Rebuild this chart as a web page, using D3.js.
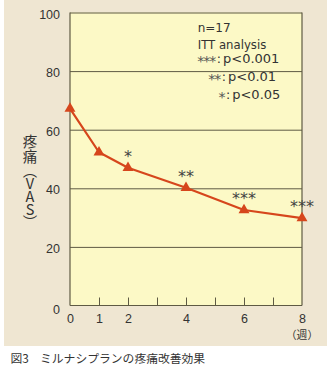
<!DOCTYPE html>
<html>
<head>
<meta charset="utf-8">
<script src="https://cdn.jsdelivr.net/npm/d3@7"></script>
<style>
  html, body { margin: 0; padding: 0; background: #ffffff; }
  svg { display: block; }
</style>
</head>
<body>
<div id="chart"></div>
<script>
// ---- data ----
const weeks = [0, 1, 2, 4, 6, 8];
const painVAS = [67.2, 52.3, 47.0, 40.2, 32.6, 29.8];
const significance = ["", "", "*", "**", "***", "***"];
const yTicks = [0, 20, 40, 60, 80, 100];
const gridTicks = [20, 40, 60, 80, 100];
const xLabelTicks = [0, 1, 2, 4, 6, 8];
const xMinorTicks = [1, 2, 3, 4, 5, 6, 7];
const xUnitLabel = "（週）";
const yTitleMain = "疼痛";
const yTitleUnit = "（VAS）";
const legendInfo = ["n=17", "ITT analysis"];
const legendStars = ["***", "**", "*"];
const legendP = ["p<0.001", "p<0.01", "p<0.05"];
const captionNum = "図3　";
const captionText = "ミルナシプランの疼痛改善効果";

(function () {
// ---- layout ----
const W = 327, H = 384;
const pL = 70, pR = 302, pT = 12.5, pB = 305.5;
const ink = "#333333";
const frame = "#5e5a44";
const red = "#d6461c";

const svg = d3.select("#chart").append("svg")
  .attr("width", W).attr("height", H);

svg.append("rect").attr("width", W).attr("height", H).attr("fill", "#ffffff");
svg.append("rect").attr("x", 4).attr("y", 0).attr("width", W - 4).attr("height", 346)
  .attr("fill", "#efe6d2");

const x = d3.scaleLinear().domain([0, 8]).range([pL, pR]);
const y = d3.scaleLinear().domain([0, 100]).range([pB, pT]);

svg.append("rect").attr("x", pL).attr("y", pT)
  .attr("width", pR - pL).attr("height", pB - pT)
  .attr("fill", "#fcf9c6");

// gridlines
const grid = svg.append("g").attr("transform", `translate(${pL},0)`)
  .call(d3.axisLeft(y).tickValues(gridTicks).tickSize(-(pR - pL)).tickFormat(""));
grid.select(".domain").remove();
grid.selectAll("line").attr("stroke", frame).attr("stroke-width", 1);

// frame lines: left, bottom, right
svg.append("line").attr("x1", pL).attr("x2", pL).attr("y1", pT).attr("y2", pB)
  .attr("stroke", frame).attr("stroke-width", 1.2);
svg.append("line").attr("x1", pL).attr("x2", pR).attr("y1", pB).attr("y2", pB)
  .attr("stroke", frame).attr("stroke-width", 1.2);
svg.append("line").attr("x1", pR).attr("x2", pR).attr("y1", pT).attr("y2", pB)
  .attr("stroke", frame).attr("stroke-width", 1.2);

// y axis labels
const yAx = svg.append("g").attr("transform", `translate(${pL},0)`)
  .call(d3.axisLeft(y).tickValues(yTicks).tickSize(0).tickPadding(10));
yAx.select(".domain").remove();
yAx.selectAll("text")
  .attr("font-family", "Liberation Sans, Arial, sans-serif")
  .attr("font-size", 12.5).attr("fill", ink)
  .attr("dy", d => d === 0 ? "0.62em" : "0.45em");

// x minor ticks
const xMinor = svg.append("g").attr("transform", `translate(0,${pB})`)
  .call(d3.axisBottom(x).tickValues(xMinorTicks).tickSize(-8).tickFormat(""));
xMinor.select(".domain").remove();
xMinor.selectAll("line").attr("stroke", frame).attr("stroke-width", 1);

// x labels
const xAx = svg.append("g").attr("transform", `translate(0,${pB})`)
  .call(d3.axisBottom(x).tickValues(xLabelTicks).tickSize(0).tickPadding(9));
xAx.select(".domain").remove();
xAx.selectAll("text")
  .attr("font-family", "Liberation Sans, Arial, sans-serif")
  .attr("font-size", 12.5).attr("fill", ink);

svg.append("text").attr("x", x(8)).attr("y", 339)
  .attr("text-anchor", "middle")
  .attr("font-family", "Noto Sans CJK JP, sans-serif")
  .attr("font-size", 10.8).attr("fill", ink)
  .text(xUnitLabel);

// y title (vertical)
const yt = svg.append("text")
  .attr("x", 30).attr("y", 134.5)
  .attr("font-family", "Noto Sans CJK JP, sans-serif")
  .attr("font-size", 14.5).attr("fill", ink)
  .style("writing-mode", "vertical-rl")
  .style("text-orientation", "upright");
yt.append("tspan").text(yTitleMain);
yt.append("tspan").style("letter-spacing", "-1.5px").text(yTitleUnit);

// data
const pts = weeks.map((w, i) => ({ w, v: painVAS[i], s: significance[i] }));
svg.append("path").datum(pts)
  .attr("fill", "none").attr("stroke", red).attr("stroke-width", 2.2)
  .attr("stroke-linejoin", "round")
  .attr("d", d3.line().x(d => x(d.w)).y(d => y(d.v)));

svg.selectAll(".tri").data(pts).enter().append("path")
  .attr("class", "tri")
  .attr("transform", d => `translate(${x(d.w)},${y(d.v)})`)
  .attr("d", d3.symbol(d3.symbolTriangle).size(52))
  .attr("fill", red);

svg.selectAll(".sig").data(pts.filter(d => d.s)).enter().append("text")
  .attr("class", "sig")
  .attr("x", d => x(d.w)).attr("y", d => y(d.v) - 15 + 9.3)
  .attr("text-anchor", "middle")
  .attr("font-family", "DejaVu Sans, sans-serif")
  .attr("font-size", 16).attr("fill", "#444")
  .text(d => d.s);

// legend
const legFont = "DejaVu Sans, sans-serif";
svg.append("text").attr("x", 197.7).attr("y", 31.7)
  .attr("font-family", legFont).attr("font-size", 12).attr("fill", ink)
  .text(legendInfo[0]);
svg.append("text").attr("x", 197.7).attr("y", 49)
  .attr("font-family", legFont).attr("font-size", 11.7).attr("fill", ink)
  .text(legendInfo[1]);
const legX = [197.3, 208.3, 218.5];
const legY = [63, 81.3, 99.3];
legendStars.forEach((s, i) => {
  const t = svg.append("text").attr("x", legX[i]).attr("y", legY[i])
    .attr("font-family", legFont).attr("fill", ink);
  t.append("tspan").attr("font-size", 14).attr("dy", 3).attr("fill", "#555")
    .style("letter-spacing", "-1px").text(s);
  t.append("tspan").attr("font-size", 12.5).attr("dy", -3).attr("dx", 1.5).text(":");
  t.append("tspan").attr("font-size", 13).attr("dx", 2).text(legendP[i]);
});

// caption
const cap = svg.append("text").attr("y", 363)
  .attr("font-family", "Noto Sans CJK JP, sans-serif")
  .attr("font-size", 11.8).attr("fill", ink);
cap.append("tspan").attr("x", 10.5).text(captionNum);
cap.append("tspan").attr("x", 40).text(captionText);
})();
</script>
</body>
</html>
